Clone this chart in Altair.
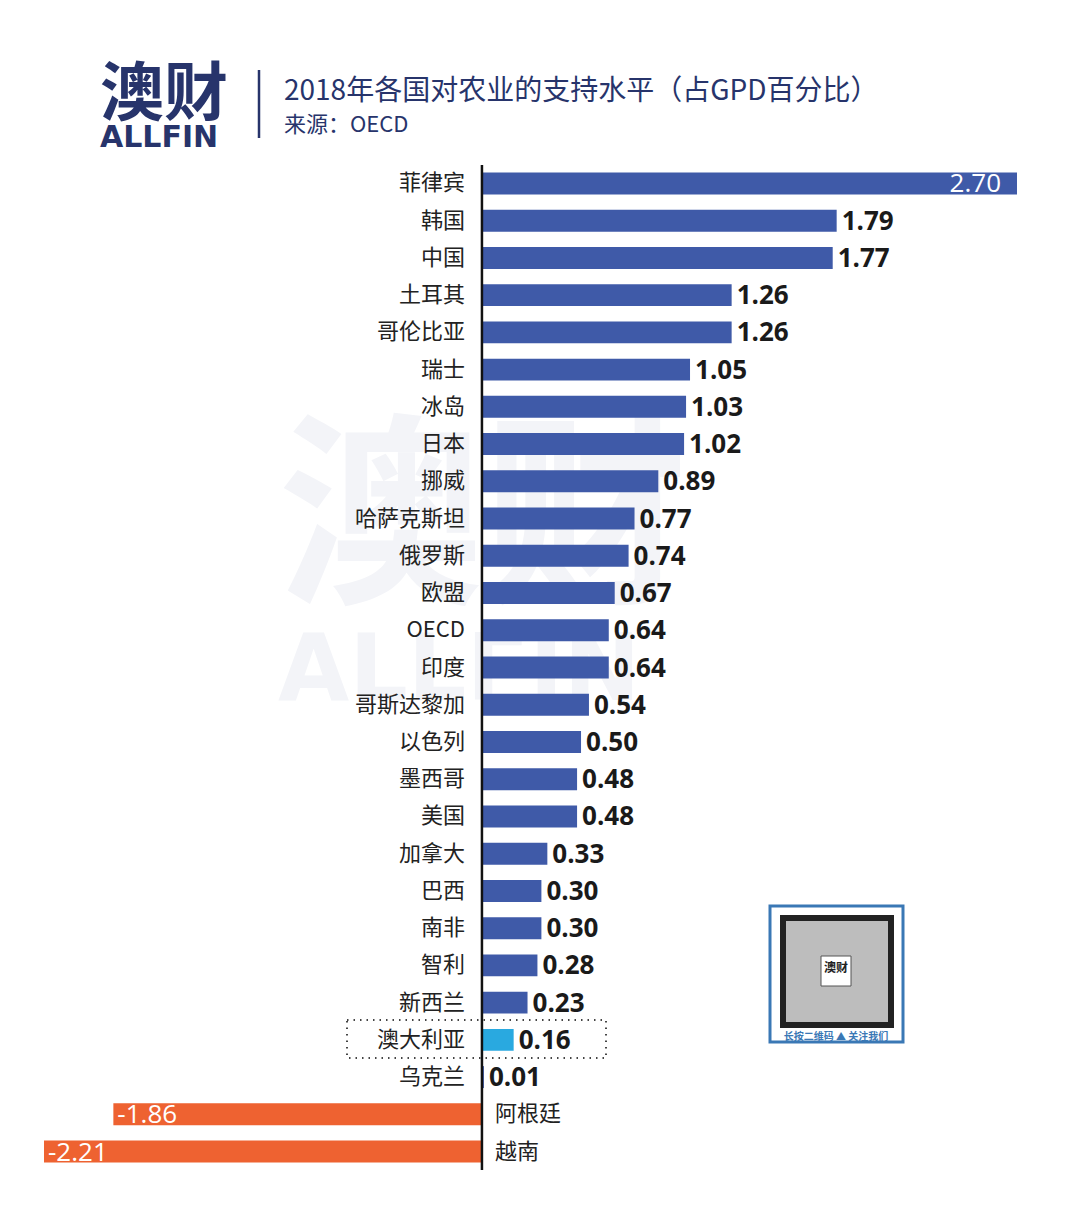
import altair as alt
import pandas as pd

countries = ["菲律宾", "韩国", "中国", "土耳其", "哥伦比亚", "瑞士", "冰岛", "日本", "挪威",
             "哈萨克斯坦", "俄罗斯", "欧盟", "OECD", "印度", "哥斯达黎加", "以色列", "墨西哥",
             "美国", "加拿大", "巴西", "南非", "智利", "新西兰", "澳大利亚", "乌克兰", "阿根廷", "越南"]
values = [2.70, 1.79, 1.77, 1.26, 1.26, 1.05, 1.03, 1.02, 0.89, 0.77, 0.74, 0.67, 0.64, 0.64,
          0.54, 0.50, 0.48, 0.48, 0.33, 0.30, 0.30, 0.28, 0.23, 0.16, 0.01, -1.86, -2.21]
groups = ["pos"] * 23 + ["aus", "pos", "neg", "neg"]

header_texts = ["澳财", "ALLFIN", "2018年各国对农业的支持水平（占GPD百分比）", "来源：OECD",
                "长按二维码 ▲ 关注我们"]

df = pd.DataFrame({"country": countries, "value": values, "group": groups})
hdf = pd.DataFrame({"t": header_texts})

FONT = "Noto Sans CJK SC"
NUMFONT = "Open Sans"
NAVY = "#27346b"

xs = alt.Scale(domain=[-2.21, 2.70], nice=False, zero=False)
x = alt.X("value:Q", scale=xs, axis=None)
x0 = alt.X("zero:Q", scale=xs, axis=None)
y = alt.Y("country:N", sort=None, scale=alt.Scale(paddingInner=0.41, paddingOuter=0.2), axis=None)

base = alt.Chart(df).transform_calculate(
    zero="0",
    label="(datum.value < 0 ? '-' : '') + format(abs(datum.value), '.2f')",
)

bars = base.mark_bar().encode(
    x=x, y=y,
    color=alt.Color("group:N", scale=alt.Scale(domain=["pos", "aus", "neg"],
                                               range=["#3f5aa8", "#29a9e0", "#ee6231"]), legend=None),
)

zero_rule = base.transform_filter("datum.group == 'aus'").mark_rule(
    color="#111111", strokeWidth=2.5
).encode(x=x0, y=alt.value(0), y2=alt.value(1005))

name_pos = base.transform_filter("datum.value >= 0").mark_text(
    align="right", baseline="middle", dx=-17, font=FONT, fontSize=22, color="#222222"
).encode(x=x0, y=y, text="country:N")

name_neg = base.transform_filter("datum.value < 0").mark_text(
    align="left", baseline="middle", dx=13, font=FONT, fontSize=22, color="#222222"
).encode(x=x0, y=y, text="country:N")

val_pos = base.transform_filter("datum.value >= 0 && datum.value < 2.5").mark_text(
    align="left", baseline="middle", dx=5, dy=1, font=NUMFONT, fontSize=26, fontWeight="bold",
    color="#1a1a1a"
).encode(x=x, y=y, text="label:N")

val_max = base.transform_filter("datum.value >= 2.5").mark_text(
    align="right", baseline="middle", dx=-16, dy=1, font=NUMFONT, fontSize=26, color="white"
).encode(x=x, y=y, text="label:N")

val_neg = base.transform_filter("datum.value < 0").mark_text(
    align="left", baseline="middle", dx=4, dy=1, font=NUMFONT, fontSize=26, color="white"
).encode(x=x, y=y, text="label:N")

hdr = alt.Chart(hdf)


def only(label):
    return hdr.transform_filter(alt.datum.t == label)


# dotted highlight box around Australia
box = only("澳财").mark_rect(
    fill="white", fillOpacity=0, stroke="#444444", strokeDash=[1.5, 5], strokeWidth=2
).encode(x=alt.value(303), x2=alt.value(562), y=alt.value(855), y2=alt.value(893), detail="t:N")

# watermark
wm1 = only("澳财").mark_text(
    align="left", baseline="alphabetic", font=FONT, fontSize=205, fontWeight="bold", color="#f3f4f8"
).encode(x=alt.value(234), y=alt.value(422), text="t:N")
wm2 = only("ALLFIN").mark_text(
    align="left", baseline="alphabetic", font="DejaVu Sans", fontSize=92, fontWeight="bold",
    color="#f3f4f8"
).encode(x=alt.value(234), y=alt.value(535), text="t:N")

# header
logo1 = only("澳财").mark_text(
    align="left", baseline="alphabetic", font=FONT, fontSize=64, fontWeight="bold", color=NAVY
).encode(x=alt.value(56), y=alt.value(-50), text="t:N")
logo2 = only("ALLFIN").mark_text(
    align="left", baseline="alphabetic", font="DejaVu Sans", fontSize=30, fontWeight="bold", color=NAVY
).encode(x=alt.value(56), y=alt.value(-18), text="t:N")
sep = only("澳财").mark_rule(color=NAVY, strokeWidth=2.5).encode(
    x=alt.value(215), y=alt.value(-95), y2=alt.value(-27), detail="t:N")
title = only("2018年各国对农业的支持水平（占GPD百分比）").mark_text(
    align="left", baseline="alphabetic", font=FONT, fontSize=28, color=NAVY
).encode(x=alt.value(240), y=alt.value(-65), text="t:N")
sub = only("来源：OECD").mark_text(
    align="left", baseline="alphabetic", font=FONT, fontSize=22, color=NAVY
).encode(x=alt.value(240), y=alt.value(-33), text="t:N")

# QR code area (placeholder)
qr_frame = only("澳财").mark_rect(fill="white", stroke="#3a78b5", strokeWidth=3).encode(
    x=alt.value(726), x2=alt.value(859), y=alt.value(741), y2=alt.value(877), detail="t:N")
qr_inner = only("澳财").mark_rect(fill="#bdbdbd", stroke="#222222", strokeWidth=6).encode(
    x=alt.value(739), x2=alt.value(847), y=alt.value(753), y2=alt.value(860), detail="t:N")
qr_logo = only("澳财").mark_rect(fill="white", stroke="#555555", strokeWidth=1).encode(
    x=alt.value(777), x2=alt.value(807), y=alt.value(791), y2=alt.value(821), detail="t:N")
qr_center = only("澳财").mark_text(
    align="center", baseline="middle", font=FONT, fontSize=12, fontWeight="bold", color="#222222"
).encode(x=alt.value(792), y=alt.value(803), text="t:N")
qr_text = only("长按二维码 ▲ 关注我们").mark_text(
    align="center", baseline="middle", font=FONT, fontSize=10, fontWeight="bold", color="#3a78b5"
).encode(x=alt.value(792), y=alt.value(872), text="t:N")

chart = alt.layer(
    wm1, wm2, bars, zero_rule, name_pos, name_neg, val_pos, val_max, val_neg, box,
    logo1, logo2, sep, title, sub, qr_frame, qr_inner, qr_logo, qr_center, qr_text
).properties(
    width=973, height=1005,
    padding={"left": 44, "top": 165, "right": 50, "bottom": 50},
    autosize=alt.AutoSizeParams(type="none"),
    background="white",
).configure_view(stroke=None)

chart.save("out.html", embed_options={"renderer": "svg", "actions": False})
